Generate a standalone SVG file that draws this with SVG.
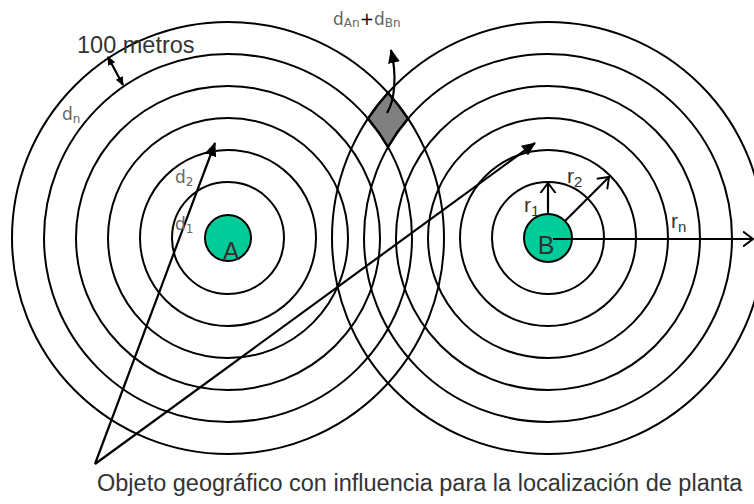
<svg xmlns="http://www.w3.org/2000/svg" width="754" height="504" viewBox="0 0 754 504">
<style>
.ring{fill:none;stroke:#000;stroke-width:2}
.core{fill:#00cc99;stroke:#000;stroke-width:2}
.ln{fill:none;stroke:#000;stroke-width:2.2}
.lbl{font-family:"Liberation Sans",Arial,sans-serif;fill:#333}
.dl{font-family:"DejaVu Sans",sans-serif;fill:#666}
</style>
<defs>
<marker id="tri" viewBox="0 0 14 12" refX="13" refY="6" markerWidth="14" markerHeight="12" markerUnits="userSpaceOnUse" orient="auto"><path d="M0,0 L14,6 L0,12 z" fill="#000"/></marker>
<marker id="tri2" viewBox="0 0 9 8" refX="8" refY="4" markerWidth="9" markerHeight="8" markerUnits="userSpaceOnUse" orient="auto-start-reverse"><path d="M0,0 L9,4 L0,8 z" fill="#000"/></marker>
<marker id="vee" viewBox="0 0 11 16" refX="10" refY="8" markerWidth="11" markerHeight="16" markerUnits="userSpaceOnUse" orient="auto"><path d="M0,0.5 L10,8 L0,15.5" fill="none" stroke="#000" stroke-width="2"/></marker>
</defs>
<rect width="754" height="504" fill="#fff"/>
<g id="nodeA">
<circle class="ring" cx="228" cy="238" r="56"/>
<circle class="ring" cx="228" cy="238" r="88"/>
<circle class="ring" cx="228" cy="238" r="120"/>
<circle class="ring" cx="228" cy="238" r="152"/>
<circle class="ring" cx="228" cy="238" r="184"/>
<circle class="ring" cx="228" cy="238" r="216"/>
<circle class="core" cx="228" cy="238" r="23"/>
<text class="lbl" x="231" y="260" font-size="25" text-anchor="middle">A</text>
</g>
<g id="nodeB">
<circle class="ring" cx="548" cy="238" r="56"/>
<circle class="ring" cx="548" cy="238" r="88"/>
<circle class="ring" cx="548" cy="238" r="120"/>
<circle class="ring" cx="548" cy="238" r="152"/>
<circle class="ring" cx="548" cy="238" r="184"/>
<circle class="ring" cx="548" cy="238" r="216"/>
<circle class="core" cx="548" cy="238" r="24"/>
<text class="lbl" x="546" y="254" font-size="25" text-anchor="middle">B</text>
</g>
<g id="overlap">
<path d="M388,93 A216,216 0 0 1 408,118.6 A184,184 0 0 0 388,147 A184,184 0 0 0 368,118.6 A216,216 0 0 1 388,93 z" fill="#808080" stroke="#000" stroke-width="2.5"/>
</g>
<g id="connectors">
<line class="ln" x1="95" y1="464" x2="215" y2="143" marker-end="url(#tri)"/>
<line class="ln" x1="95" y1="464" x2="535" y2="143" marker-end="url(#tri)"/>
<line class="ln" x1="108" y1="57" x2="123" y2="85" marker-start="url(#tri2)" marker-end="url(#tri2)"/>
<path class="ln" d="M387,113 C395,100 397,75 391,50" marker-end="url(#tri)"/>
<line class="ln" x1="548" y1="214" x2="548" y2="183" marker-end="url(#vee)"/>
<line class="ln" x1="565" y1="221" x2="609" y2="177" marker-end="url(#vee)"/>
<line class="ln" x1="553" y1="239" x2="753" y2="239" marker-end="url(#vee)"/>
</g>
<g id="labels">
<text class="lbl" x="77" y="53" font-size="23.5">100 metros</text>
<text class="dl" x="62" y="120" font-size="17">d<tspan font-size="12" dy="3">n</tspan></text>
<text class="dl" x="175" y="183" font-size="17">d<tspan font-size="12" dy="3">2</tspan></text>
<text class="dl" x="175" y="230" font-size="17">d<tspan font-size="12" dy="3">1</tspan></text>
<text class="dl" x="333" y="25" font-size="17">d<tspan font-size="12" dy="2">An</tspan><tspan dy="-2" fill="#000">+</tspan>d<tspan font-size="12" dy="2">Bn</tspan></text>
<text class="lbl" x="524" y="212" font-size="21">r<tspan font-size="15" dy="4">1</tspan></text>
<text class="lbl" x="567" y="183" font-size="21">r<tspan font-size="15" dy="4">2</tspan></text>
<text class="lbl" x="671" y="228" font-size="21">r<tspan font-size="15" dy="4">n</tspan></text>
<text class="lbl" x="97" y="491" font-size="23.5">Objeto geográfico con influencia para la localización de planta</text>
</g>
</svg>
